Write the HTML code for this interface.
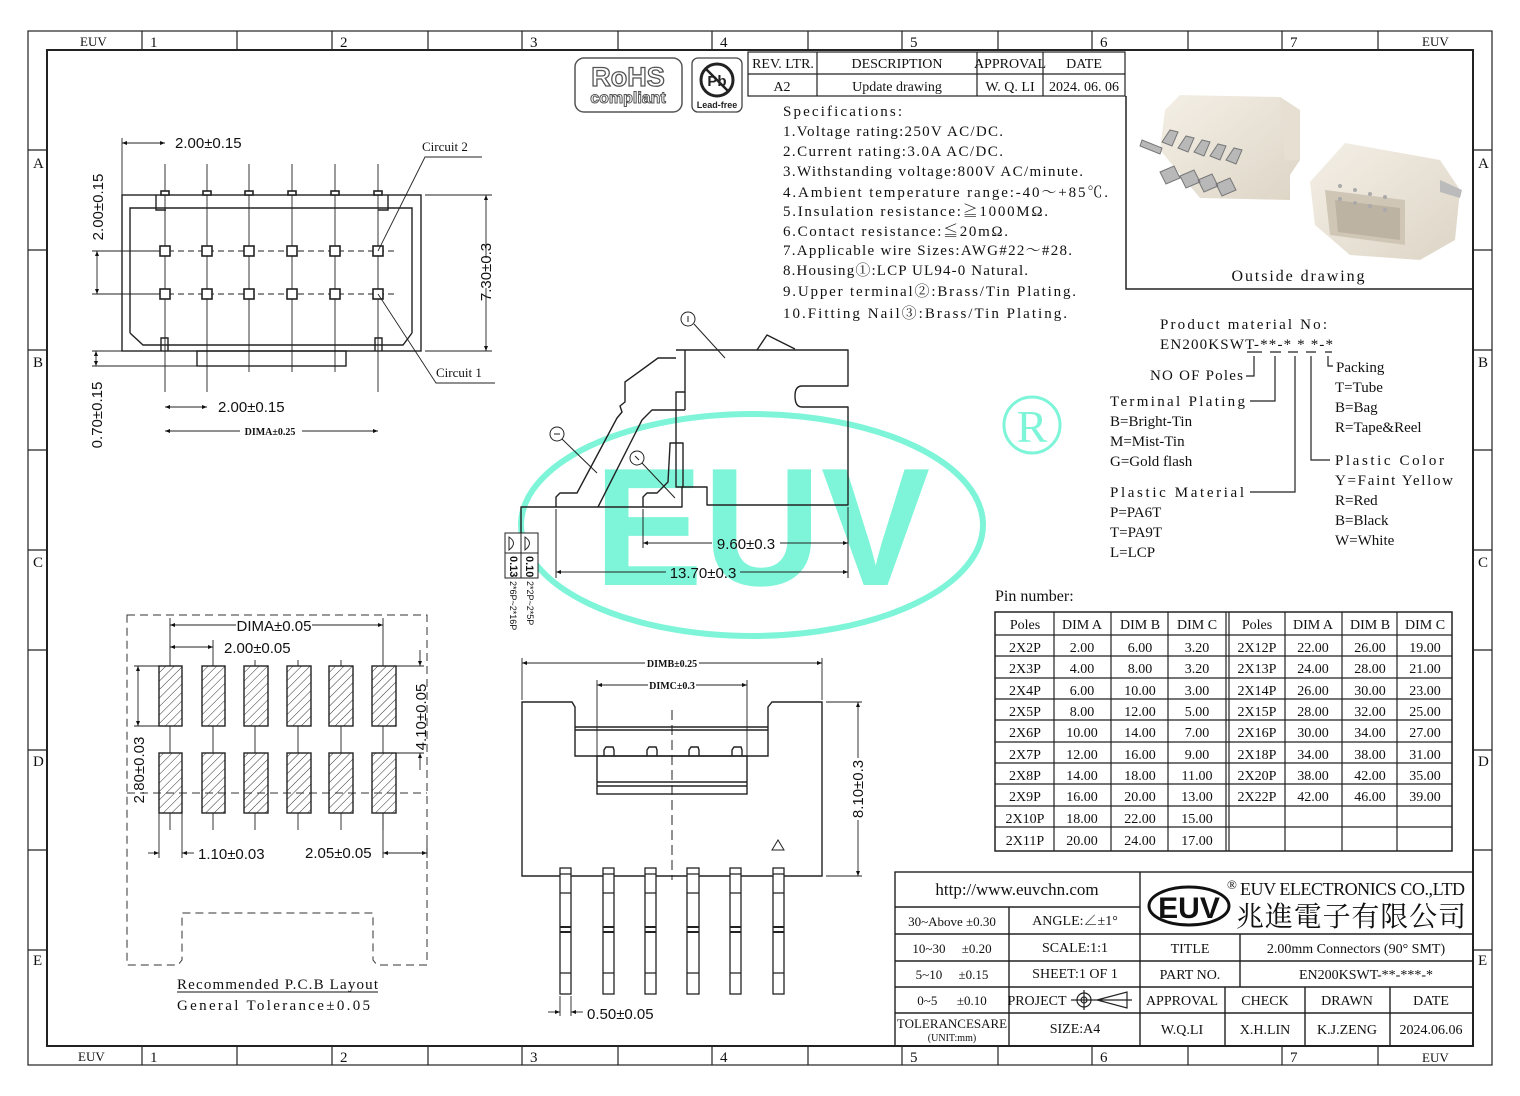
<!DOCTYPE html>
<html><head><meta charset="utf-8">
<style>
html,body{margin:0;padding:0;background:#fff;}
svg{display:block;}
.s{font-family:"Liberation Serif","Noto Serif CJK SC",serif;fill:#111;}
.a{font-family:"Liberation Sans","Noto Sans CJK SC",sans-serif;fill:#111;}
</style></head>
<body>
<svg width="1520" height="1096" viewBox="0 0 1520 1096" xmlns="http://www.w3.org/2000/svg">
<defs>
<marker id="ar" viewBox="0 0 10 10" refX="10" refY="5" markerWidth="7" markerHeight="5" orient="auto-start-reverse" markerUnits="userSpaceOnUse"><path d="M0,1 L10,5 L0,9 z" fill="#111"/></marker>
<pattern id="hatch" width="6" height="6" patternUnits="userSpaceOnUse" patternTransform="rotate(45)"><line x1="0" y1="0" x2="0" y2="6" stroke="#333" stroke-width="1"/></pattern>
<linearGradient id="cream" x1="0" y1="0" x2="1" y2="1"><stop offset="0" stop-color="#f4efe6"/><stop offset="1" stop-color="#ddd5c6"/></linearGradient>
</defs>
<rect width="1520" height="1096" fill="#fff"/>

<!-- watermark (beneath everything) -->
<ellipse cx="752" cy="525" rx="231" ry="111" fill="none" stroke="#7ef5d8" stroke-width="6"/>
<text x="762" y="585" text-anchor="middle" font-family="Liberation Sans,sans-serif" font-weight="bold" font-size="168" fill="#7ef5d8" textLength="336" lengthAdjust="spacingAndGlyphs">EUV</text>
<circle cx="1032" cy="425" r="28" fill="none" stroke="#7ef5d8" stroke-width="3"/>
<text x="1032" y="442" text-anchor="middle" font-family="Liberation Serif,serif" font-size="46" fill="#7ef5d8">R</text>

<!-- frame -->
<g stroke="#222" fill="none" stroke-width="1.2">
<rect x="28" y="31" width="1464" height="1034"/>
<rect x="47" y="50" width="1426" height="996" stroke-width="2"/>
<path d="M142,31V50M237,31V50M332,31V50M428,31V50M522,31V50M618,31V50M712,31V50M808,31V50M902,31V50M998,31V50M1092,31V50M1188,31V50M1282,31V50M1378,31V50"/>
<path d="M142,1046V1065M237,1046V1065M332,1046V1065M428,1046V1065M522,1046V1065M618,1046V1065M712,1046V1065M808,1046V1065M902,1046V1065M998,1046V1065M1092,1046V1065M1188,1046V1065M1282,1046V1065M1378,1046V1065"/>
<path d="M28,150H47M28,250H47M28,350H47M28,450H47M28,550H47M28,650H47M28,750H47M28,850H47M28,950H47"/>
<path d="M1473,150H1492M1473,250H1492M1473,350H1492M1473,450H1492M1473,550H1492M1473,650H1492M1473,750H1492M1473,850H1492M1473,950H1492"/>
</g>
<g class="s" font-size="15">
<text x="80" y="46" font-size="13">EUV</text><text x="1422" y="46" font-size="13">EUV</text>
<text x="78" y="1061" font-size="13">EUV</text><text x="1422" y="1062" font-size="13">EUV</text>
<text x="150" y="47">1</text><text x="340" y="47">2</text><text x="530" y="47">3</text><text x="720" y="47">4</text><text x="910" y="47">5</text><text x="1100" y="47">6</text><text x="1290" y="47">7</text>
<text x="150" y="1062">1</text><text x="340" y="1062">2</text><text x="530" y="1062">3</text><text x="720" y="1062">4</text><text x="910" y="1062">5</text><text x="1100" y="1062">6</text><text x="1290" y="1062">7</text>
<text x="33" y="168">A</text><text x="33" y="367">B</text><text x="33" y="567">C</text><text x="33" y="766">D</text><text x="33" y="965">E</text>
<text x="1478" y="168">A</text><text x="1478" y="367">B</text><text x="1478" y="567">C</text><text x="1478" y="766">D</text><text x="1478" y="965">E</text>
</g>

<!-- RoHS / Pb -->
<rect x="575" y="58" width="107" height="54" rx="9" fill="none" stroke="#555" stroke-width="1.5"/>
<text x="628" y="86" text-anchor="middle" font-family="Liberation Sans,sans-serif" font-weight="bold" font-size="27" fill="#fff" stroke="#555" stroke-width="1.3">RoHS</text>
<text x="628" y="103" text-anchor="middle" font-family="Liberation Sans,sans-serif" font-weight="bold" font-size="16" fill="#fff" stroke="#555" stroke-width="1">compliant</text>
<rect x="692" y="58" width="50" height="54" rx="6" fill="none" stroke="#444" stroke-width="1.3"/>
<circle cx="717" cy="80" r="16" fill="none" stroke="#222" stroke-width="3"/>
<text x="717" y="86" text-anchor="middle" font-family="Liberation Sans,sans-serif" font-weight="bold" font-size="15" fill="#222">Pb</text>
<line x1="706" y1="69" x2="728" y2="91" stroke="#222" stroke-width="2.5"/>
<text x="717" y="108" text-anchor="middle" font-family="Liberation Sans,sans-serif" font-weight="bold" font-size="9" fill="#222">Lead-free</text>

<!-- revision table -->
<g stroke="#222" fill="none" stroke-width="1.2">
<rect x="748" y="52" width="377" height="44"/>
<path d="M748,74H1125M817,52V96M977,52V96M1043,52V96"/>
</g>
<g class="s" font-size="14" text-anchor="middle">
<text x="783" y="68">REV. LTR.</text><text x="897" y="68">DESCRIPTION</text><text x="1010" y="68">APPROVAL</text><text x="1084" y="68">DATE</text>
<text x="782" y="91">A2</text><text x="897" y="91">Update drawing</text><text x="1010" y="91">W. Q. LI</text><text x="1084" y="91">2024. 06. 06</text>
</g>

<!-- specifications -->
<g class="s" font-size="15">
<text x="783" y="116" textLength="119">Specifications:</text>
<text x="783" y="136" textLength="220">1.Voltage rating:250V AC/DC.</text>
<text x="783" y="156" textLength="220">2.Current rating:3.0A AC/DC.</text>
<text x="783" y="176" textLength="300">3.Withstanding voltage:800V AC/minute.</text>
<text x="783" y="197" textLength="325">4.Ambient temperature range:-40～+85℃.</text>
<text x="783" y="216" textLength="265">5.Insulation resistance:≧1000MΩ.</text>
<text x="783" y="236" textLength="225">6.Contact resistance:≦20mΩ.</text>
<text x="783" y="255" textLength="289">7.Applicable wire Sizes:AWG#22～#28.</text>
<text x="783" y="275" textLength="245">8.Housing①:LCP UL94-0 Natural.</text>
<text x="783" y="296" textLength="293">9.Upper terminal②:Brass/Tin Plating.</text>
<text x="783" y="318" textLength="284">10.Fitting Nail③:Brass/Tin Plating.</text>
</g>

<!-- outside drawing -->
<path d="M1126,96V289H1473" fill="none" stroke="#222" stroke-width="1.5"/>
<g>
<polygon points="1165,110 1180,95 1280,97 1300,110 1300,160 1290,175 1290,200 1200,198 1160,150" fill="url(#cream)"/>
<polygon points="1280,97 1300,110 1300,160 1285,160" fill="#e6dfd2"/>
<g fill="#b8b8b8" stroke="#777" stroke-width="1">
<path d="M1162,142l8,-12l8,2l-6,14z M1178,148l8,-12l8,2l-6,14z M1194,152l8,-12l8,2l-6,14z M1210,156l8,-12l8,2l-6,14z M1226,160l8,-12l8,2l-6,14z"/>
<path d="M1142,140l20,8l-2,6l-20,-8z M1160,172l14,-6l6,12l-14,6z M1180,176l14,-6l6,12l-14,6z M1198,180l14,-6l6,12l-14,6z M1216,184l14,-6l6,12l-14,6z"/>
</g>
<polygon points="1310,182 1345,143 1440,160 1460,190 1455,240 1420,260 1350,255 1315,225" fill="url(#cream)"/>
<polygon points="1325,190 1405,200 1405,245 1330,235" fill="#cfc6b6"/>
<polygon points="1335,200 1400,208 1400,240 1338,232" fill="#bdb3a2"/>
<g fill="#aaa"><circle cx="1340" cy="186" r="2"/><circle cx="1355" cy="190" r="2"/><circle cx="1370" cy="194" r="2"/><circle cx="1385" cy="197" r="2"/><circle cx="1340" cy="199" r="2"/><circle cx="1355" cy="203" r="2"/><circle cx="1370" cy="206" r="2"/><circle cx="1385" cy="210" r="2"/></g>
<path d="M1440,180l22,10l-2,8l-20,-6z" fill="#bbb"/>
</g>
<text x="1298" y="281" text-anchor="middle" class="s" font-size="16" textLength="133">Outside drawing</text>

<!-- top-left drawing -->
<g stroke="#222" fill="none" stroke-width="1.4">
<rect x="122" y="195" width="299" height="156"/>
<path d="M130,333V208H412V333 M130,333L143,345H403L412,333"/>
<rect x="197" y="351" width="149" height="15"/>
<path d="M156,195V210H166 M388,195V210H378"/>
<path d="M161,351V338H168V351 M375,351V338H382V351"/>
</g>
<g stroke="#222" stroke-width="0.9" fill="none">
<path d="M165,164V392M207,164V392M249,164V372M292,164V372M335,164V372M378,164V392"/>
<path d="M148,251H398M148,294H398" stroke-dasharray="6,4"/>
</g>
<g fill="#fff" stroke="#222" stroke-width="1.6">
<rect x="160" y="246" width="10" height="10"/><rect x="202" y="246" width="10" height="10"/><rect x="244" y="246" width="10" height="10"/><rect x="287" y="246" width="10" height="10"/><rect x="330" y="246" width="10" height="10"/><rect x="373" y="246" width="10" height="10"/>
<rect x="160" y="289" width="10" height="10"/><rect x="202" y="289" width="10" height="10"/><rect x="244" y="289" width="10" height="10"/><rect x="287" y="289" width="10" height="10"/><rect x="330" y="289" width="10" height="10"/><rect x="373" y="289" width="10" height="10"/>
<rect x="161" y="191" width="8" height="4"/><rect x="203" y="191" width="8" height="4"/><rect x="245" y="191" width="8" height="4"/><rect x="288" y="191" width="8" height="4"/><rect x="331" y="191" width="8" height="4"/><rect x="374" y="191" width="8" height="4"/>
</g>
<g stroke="#222" stroke-width="0.9" fill="none">
<path d="M122,138V195"/>
<path d="M122,143H165" marker-start="url(#ar)" marker-end="url(#ar)"/>
<path d="M92,251H158M92,294H158"/>
<path d="M97,251V294" marker-start="url(#ar)" marker-end="url(#ar)"/>
<path d="M425,195H492M425,351H492"/>
<path d="M486,195V351" marker-start="url(#ar)" marker-end="url(#ar)"/>
<path d="M92,351H122M92,366H197"/>
<path d="M96,351V366" marker-start="url(#ar)" marker-end="url(#ar)"/>
<path d="M165,407H207" marker-start="url(#ar)" marker-end="url(#ar)"/>
<path d="M165,431H378" marker-start="url(#ar)" marker-end="url(#ar)"/>
<path d="M378,251L425,157H482M378,294L436,383H495"/>
</g>
<rect x="455" y="258" width="60" height="30" fill="#fff"/>
<rect x="240" y="424" width="62" height="14" fill="#fff"/>
<g class="a" font-size="15">
<text x="175" y="148">2.00±0.15</text>
<text x="218" y="412">2.00±0.15</text>
<text x="270" y="435" text-anchor="middle" font-size="10" font-weight="bold" class="s">DIMA±0.25</text>
<text transform="translate(103,207) rotate(-90)" text-anchor="middle">2.00±0.15</text>
<text transform="translate(491,272) rotate(-90)" text-anchor="middle">7.30±0.3</text>
<text transform="translate(102,415) rotate(-90)" text-anchor="middle">0.70±0.15</text>
</g>
<g class="s" font-size="13"><text x="422" y="151">Circuit 2</text><text x="436" y="377">Circuit 1</text></g>

<!-- side view -->
<g stroke="#222" stroke-width="1.4" fill="none" stroke-linejoin="round">
<path d="M676,350H848V386H802Q795,386 795,396Q795,407 802,407H848V505H707V487H676V392H685V350"/>
<path d="M757,350L767,335L795,349"/>
<path d="M676,358H658L625,382V402L620,406L622,412L617,418L577,493H560L556,497V507H682V487H683V443H670V445L668,482L657,493H647L643,497V507"/>
<path d="M685,410H652L642,420L598,507"/>
<path d="M685,392V410"/>
<path d="M556,507H521V533"/>
</g>
<g stroke="#222" stroke-width="1" fill="#fff">
<circle cx="688" cy="319" r="7"/><circle cx="557" cy="434" r="7"/><circle cx="637" cy="458" r="7"/>
</g>
<g stroke="#222" stroke-width="1" fill="none">
<path d="M694,324L725,358M562,439L597,473M642,463L675,498"/>
<path d="M688,316V322M554,434H560M635,456L639,460"/>
<path d="M643,509V548M848,507V578M556,509V578"/>
<path d="M643,543H712" marker-start="url(#ar)"/><path d="M780,543H848" marker-end="url(#ar)"/>
<path d="M556,572H666" marker-start="url(#ar)"/><path d="M740,572H848" marker-end="url(#ar)"/>
</g>
<g class="a" font-size="15"><text x="746" y="549" text-anchor="middle">9.60±0.3</text><text x="703" y="578" text-anchor="middle">13.70±0.3</text></g>
<g stroke="#222" stroke-width="1" fill="none">
<rect x="505" y="533" width="33" height="45" fill="#fff"/><path d="M521,533V578M505,553H538"/>
<path d="M509,537Q518,543 509,550Z M525,537Q534,543 525,550Z"/>
</g>
<g class="a" font-size="11" font-weight="bold">
<text transform="translate(510,556) rotate(90)">0.13</text>
<text transform="translate(526,556) rotate(90)">0.10</text>
</g>
<g class="a" font-size="9">
<text transform="translate(510,581) rotate(90)">2*6P~2*16P</text>
<text transform="translate(527,581) rotate(90)">2*2P~2*5P</text>
</g>

<!-- front view -->
<g stroke="#222" stroke-width="1.4" fill="none">
<path d="M522,702H572L575,707V756H768V707L772,702H822V876H522Z"/>
<path d="M575,727H768M575,730H768"/>
<rect x="597" y="756" width="150" height="38"/>
<path d="M597,782H747M597,786H747"/>
<path d="M604,756V750L606,747H613L614,750V756 M647,756V750L649,747H656L657,750V756 M689,756V750L691,747H698L699,750V756 M732,756V750L734,747H741L742,750V756"/>
<path d="M772,850L778,840L784,850Z" stroke-width="1"/>
</g>
<path d="M672,710V880" stroke="#222" stroke-width="1" stroke-dasharray="10,5"/>
<g stroke="#222" stroke-width="1.3" fill="#fff">
<rect x="560" y="868" width="11" height="126"/><rect x="603" y="868" width="11" height="126"/><rect x="645" y="868" width="11" height="126"/><rect x="687" y="868" width="12" height="126"/><rect x="730" y="868" width="11" height="126"/><rect x="773" y="868" width="11" height="126"/>
</g>
<g stroke="#222" stroke-width="1.2">
<path d="M560,874H571M603,874H614M645,874H656M687,874H699M730,874H741M773,874H784"/>
<path d="M560,893H571M603,893H614M645,893H656M687,893H699M730,893H741M773,893H784"/>
<path d="M560,927H571M603,927H614M645,927H656M687,927H699M730,927H741M773,927H784" stroke-width="2"/>
<path d="M560,932H571M603,932H614M645,932H656M687,932H699M730,932H741M773,932H784" stroke-width="2"/>
<path d="M560,973H571M603,973H614M645,973H656M687,973H699M730,973H741M773,973H784"/>
</g>
<g stroke="#222" stroke-width="0.9" fill="none">
<path d="M522,658V700M822,658V700M597,680V756M747,680V756"/>
<path d="M522,663H822" marker-start="url(#ar)" marker-end="url(#ar)"/>
<path d="M597,685H747" marker-start="url(#ar)" marker-end="url(#ar)"/>
<path d="M826,702H862M826,876H862"/>
<path d="M858,702V876" marker-start="url(#ar)" marker-end="url(#ar)"/>
<path d="M560,996V1016M571,996V1016"/>
<path d="M548,1012H560" marker-end="url(#ar)"/><path d="M583,1012H571" marker-end="url(#ar)"/>
</g>
<rect x="645" y="656" width="54" height="14" fill="#fff"/>
<rect x="648" y="678" width="48" height="14" fill="#fff"/>
<rect x="850" y="758" width="16" height="62" fill="#fff"/>
<g class="s" font-size="10" font-weight="bold" text-anchor="middle"><text x="672" y="667">DIMB±0.25</text><text x="672" y="689">DIMC±0.3</text></g>
<g class="a" font-size="15"><text transform="translate(863,789) rotate(-90)" text-anchor="middle">8.10±0.3</text><text x="587" y="1019">0.50±0.05</text></g>

<!-- PCB layout -->
<g stroke="#333" stroke-width="1" fill="none" stroke-dasharray="8,5">
<path d="M127,615H427V965H377L373,960V913H182V960L178,965H127Z"/>
<path d="M127,793H427"/>
</g>
<g stroke="#222" stroke-width="0.9" fill="none">
<path d="M170,618V666M383,618V666M213,640V666M170,726V753M213,726V753M255,726V753M298,726V753M341,726V753M383,726V753M170,813V830M213,813V830M255,813V830M298,813V830M341,813V830M383,813V830M170,660V666M213,660V666M255,660V666M298,660V666M341,660V666"/>
<path d="M159,813V858M182,813V858M383,813V858M427,843V858"/>
<path d="M170,625H383" marker-start="url(#ar)" marker-end="url(#ar)"/>
<path d="M170,647H213" marker-start="url(#ar)" marker-end="url(#ar)"/>
<path d="M134,666H159M134,726H159"/>
<path d="M138,666V726" marker-start="url(#ar)" marker-end="url(#ar)"/>
<path d="M396,666H424M396,753H424"/>
<path d="M420,650V666" marker-end="url(#ar)"/><path d="M420,770V753" marker-end="url(#ar)"/>
<path d="M148,853H159" marker-end="url(#ar)"/><path d="M194,853H182" marker-end="url(#ar)"/>
<path d="M383,853H427" marker-start="url(#ar)" marker-end="url(#ar)"/>
</g>
<g stroke="#222" stroke-width="1.4" fill="url(#hatch)">
<rect x="159" y="666" width="23" height="60"/><rect x="202" y="666" width="23" height="60"/><rect x="244" y="666" width="24" height="60"/><rect x="287" y="666" width="24" height="60"/><rect x="329" y="666" width="24" height="60"/><rect x="372" y="666" width="24" height="60"/>
<rect x="159" y="753" width="23" height="60"/><rect x="202" y="753" width="23" height="60"/><rect x="244" y="753" width="24" height="60"/><rect x="287" y="753" width="24" height="60"/><rect x="329" y="753" width="24" height="60"/><rect x="372" y="753" width="24" height="60"/>
</g>
<rect x="236" y="617" width="76" height="16" fill="#fff"/>
<rect x="222" y="639" width="72" height="16" fill="#fff"/>
<g class="a" font-size="15">
<text x="274" y="631" text-anchor="middle">DIMA±0.05</text>
<text x="224" y="653">2.00±0.05</text>
<text x="198" y="859">1.10±0.03</text>
<text x="305" y="858">2.05±0.05</text>
<text transform="translate(144,770) rotate(-90)" text-anchor="middle">2.80±0.03</text>
<text transform="translate(426,717) rotate(-90)" text-anchor="middle">4.10±0.05</text>
</g>
<g class="s" font-size="15">
<text x="177" y="989" textLength="201">Recommended P.C.B Layout</text>
<line x1="177" y1="992" x2="378" y2="992" stroke="#111" stroke-width="1"/>
<text x="177" y="1010" textLength="193">General Tolerance±0.05</text>
</g>

<!-- part number breakdown -->
<g class="s" font-size="15">
<text x="1160" y="329" textLength="167">Product material No:</text>
<text x="1160" y="349" textLength="173">EN200KSWT-**-* * *-*</text>
<text x="1150" y="380" textLength="93">NO OF Poles</text>
<text x="1110" y="406" textLength="135">Terminal Plating</text>
<text x="1110" y="426">B=Bright-Tin</text><text x="1110" y="446">M=Mist-Tin</text><text x="1110" y="466">G=Gold flash</text>
<text x="1110" y="497" textLength="134">Plastic Material</text>
<text x="1110" y="517">P=PA6T</text><text x="1110" y="537">T=PA9T</text><text x="1110" y="557">L=LCP</text>
<text x="1336" y="372">Packing</text>
<text x="1335" y="392">T=Tube</text><text x="1335" y="412">B=Bag</text><text x="1335" y="432">R=Tape&amp;Reel</text>
<text x="1335" y="465" textLength="109">Plastic Color</text>
<text x="1335" y="485" textLength="118">Y=Faint Yellow</text><text x="1335" y="505">R=Red</text><text x="1335" y="525">B=Black</text><text x="1335" y="545">W=White</text>
</g>
<g stroke="#222" stroke-width="1.2" fill="none">
<path d="M1247,352H1262M1270,352H1281M1288,352H1298M1306,352H1316M1325,352H1332"/>
<path d="M1254,356V376H1246M1275,356V401H1250M1295,356V492H1250M1311,356V460H1330M1328,356V366H1333"/>
</g>

<!-- pin number table -->
<text x="995" y="601" class="s" font-size="16">Pin number:</text>
<g stroke="#222" stroke-width="1.2" fill="none">
<rect x="995" y="612" width="457" height="239" stroke-width="1.5"/>
<path d="M1054,612V851M1111,612V851M1168,612V851M1226,612V851M1229,612V851M1285,612V851M1342,612V851M1397,612V851"/>
<path d="M995,635H1452M995,656H1452M995,678H1452M995,699H1452M995,720H1452M995,742H1452M995,763H1452M995,784H1452M995,806H1452M995,827H1452"/>
</g>
<g class="s" font-size="14" text-anchor="middle">
<text x="1025" y="629">Poles</text><text x="1082" y="629">DIM A</text><text x="1140" y="629">DIM B</text><text x="1197" y="629">DIM C</text>
<text x="1257" y="629">Poles</text><text x="1313" y="629">DIM A</text><text x="1370" y="629">DIM B</text><text x="1425" y="629">DIM C</text>
<text x="1025" y="652">2X2P</text><text x="1082" y="652">2.00</text><text x="1140" y="652">6.00</text><text x="1197" y="652">3.20</text>
<text x="1025" y="673">2X3P</text><text x="1082" y="673">4.00</text><text x="1140" y="673">8.00</text><text x="1197" y="673">3.20</text>
<text x="1025" y="695">2X4P</text><text x="1082" y="695">6.00</text><text x="1140" y="695">10.00</text><text x="1197" y="695">3.00</text>
<text x="1025" y="716">2X5P</text><text x="1082" y="716">8.00</text><text x="1140" y="716">12.00</text><text x="1197" y="716">5.00</text>
<text x="1025" y="737">2X6P</text><text x="1082" y="737">10.00</text><text x="1140" y="737">14.00</text><text x="1197" y="737">7.00</text>
<text x="1025" y="759">2X7P</text><text x="1082" y="759">12.00</text><text x="1140" y="759">16.00</text><text x="1197" y="759">9.00</text>
<text x="1025" y="780">2X8P</text><text x="1082" y="780">14.00</text><text x="1140" y="780">18.00</text><text x="1197" y="780">11.00</text>
<text x="1025" y="801">2X9P</text><text x="1082" y="801">16.00</text><text x="1140" y="801">20.00</text><text x="1197" y="801">13.00</text>
<text x="1025" y="823">2X10P</text><text x="1082" y="823">18.00</text><text x="1140" y="823">22.00</text><text x="1197" y="823">15.00</text>
<text x="1025" y="845">2X11P</text><text x="1082" y="845">20.00</text><text x="1140" y="845">24.00</text><text x="1197" y="845">17.00</text>
<text x="1257" y="652">2X12P</text><text x="1313" y="652">22.00</text><text x="1370" y="652">26.00</text><text x="1425" y="652">19.00</text>
<text x="1257" y="673">2X13P</text><text x="1313" y="673">24.00</text><text x="1370" y="673">28.00</text><text x="1425" y="673">21.00</text>
<text x="1257" y="695">2X14P</text><text x="1313" y="695">26.00</text><text x="1370" y="695">30.00</text><text x="1425" y="695">23.00</text>
<text x="1257" y="716">2X15P</text><text x="1313" y="716">28.00</text><text x="1370" y="716">32.00</text><text x="1425" y="716">25.00</text>
<text x="1257" y="737">2X16P</text><text x="1313" y="737">30.00</text><text x="1370" y="737">34.00</text><text x="1425" y="737">27.00</text>
<text x="1257" y="759">2X18P</text><text x="1313" y="759">34.00</text><text x="1370" y="759">38.00</text><text x="1425" y="759">31.00</text>
<text x="1257" y="780">2X20P</text><text x="1313" y="780">38.00</text><text x="1370" y="780">42.00</text><text x="1425" y="780">35.00</text>
<text x="1257" y="801">2X22P</text><text x="1313" y="801">42.00</text><text x="1370" y="801">46.00</text><text x="1425" y="801">39.00</text>
</g>

<!-- title block -->
<g stroke="#222" stroke-width="1.4" fill="none">
<rect x="895" y="872" width="578" height="174"/>
<path d="M895,907H1140M895,934H1473M895,961H1473M895,987H1473M895,1013H1473"/>
<path d="M1009,907V1046M1140,872V1046M1240,934V987M1225,987V1046M1305,987V1046M1390,987V1046"/>
</g>
<g class="s" font-size="15" text-anchor="middle">
<text x="1017" y="895" font-size="17">http://www.euvchn.com</text>
<text x="952" y="926" font-size="13">30~Above ±0.30</text>
<text x="1075" y="925" font-size="14">ANGLE:∠±1°</text>
<text x="952" y="953" font-size="13">10~30 　±0.20</text>
<text x="1075" y="952" font-size="14">SCALE:1:1</text>
<text x="952" y="979" font-size="13">5~10 　±0.15</text>
<text x="1075" y="978" font-size="14">SHEET:1 OF 1</text>
<text x="952" y="1005" font-size="13">0~5 　 ±0.10</text>
<text x="1037" y="1005" font-size="14">PROJECT</text>
<text x="952" y="1028" font-size="13">TOLERANCESARE</text>
<text x="952" y="1041" font-size="10">(UNIT:mm)</text>
<text x="1075" y="1033" font-size="14">SIZE:A4</text>
<text x="1190" y="953" font-size="14">TITLE</text>
<text x="1356" y="953" font-size="14">2.00mm Connectors (90° SMT)</text>
<text x="1190" y="979" font-size="14">PART NO.</text>
<text x="1366" y="979" font-size="14">EN200KSWT-**-***-*</text>
<text x="1182" y="1005" font-size="14">APPROVAL</text>
<text x="1265" y="1005" font-size="14">CHECK</text>
<text x="1347" y="1005" font-size="14">DRAWN</text>
<text x="1431" y="1005" font-size="14">DATE</text>
<text x="1182" y="1034" font-size="14">W.Q.LI</text>
<text x="1265" y="1034" font-size="14">X.H.LIN</text>
<text x="1347" y="1034" font-size="14">K.J.ZENG</text>
<text x="1431" y="1034" font-size="14">2024.06.06</text>
</g>
<g stroke="#222" stroke-width="1.2" fill="none">
<circle cx="1084" cy="1000" r="7"/><circle cx="1084" cy="1000" r="3"/>
<path d="M1071,1000H1132M1084,990V1010M1097,1000L1127,992V1008Z"/>
</g>
<ellipse cx="1189" cy="906" rx="40" ry="19" fill="none" stroke="#111" stroke-width="3"/>
<text x="1189" y="918" text-anchor="middle" font-family="Liberation Sans,sans-serif" font-weight="bold" font-size="30" fill="#111">EUV</text>
<text x="1227" y="889" class="s" font-size="13">®</text>
<text x="1240" y="895" class="s" font-size="18" textLength="225">EUV ELECTRONICS CO.,LTD</text>
<text x="1236" y="926" font-family="'Noto Serif CJK SC','Noto Sans CJK SC',serif" font-size="28" fill="#111" textLength="230">兆進電子有限公司</text>
</svg>
</body></html>
